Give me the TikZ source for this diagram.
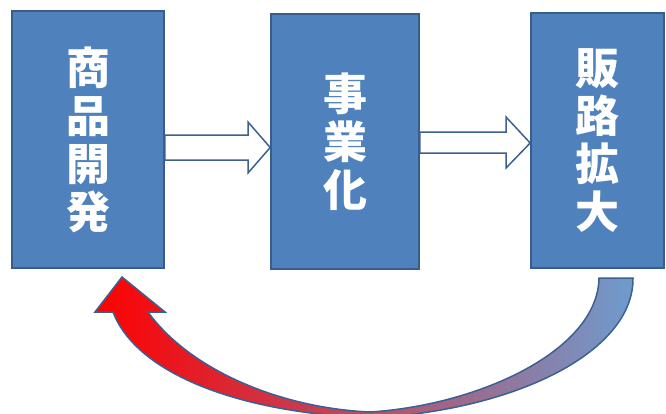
\documentclass[tikz,border=0pt]{standalone}
\usepackage{fontspec}
\newfontfamily\cjk{Noto Sans CJK JP}
\usetikzlibrary{calc}
\definecolor{boxfill}{RGB}{79,129,189}
\definecolor{boxline}{RGB}{56,93,138}
\definecolor{arrline}{RGB}{60,96,145}
\definecolor{lightblue}{RGB}{110,156,206}
\begin{document}
\begin{tikzpicture}[x=1pt,y=-1pt,
  stagebox/.style={draw=boxline, line width=1.6pt, fill=boxfill, text=white,
    inner sep=0pt, align=center,
    font=\cjk\bfseries\fontsize{44}{48}\selectfont},
  blockarrow/.style={draw=arrline, line width=1.5pt, fill=white, line join=miter},
  loopstyle/.style={draw=arrline, line width=1.5pt, left color=red, right color=lightblue, line join=miter}]
\useasboundingbox (0,0) rectangle (666,413);
\clip (0,0) rectangle (666,413);
\node[stagebox, minimum width=152pt, minimum height=257pt] (a) at (88,139.5) {商\\品\\開\\発};
\node[stagebox, minimum width=148pt, minimum height=255pt] (b) at (345,141.5) {事\\業\\化};
\node[stagebox, minimum width=133pt, minimum height=255pt] (c) at (597.5,140.5) {販\\路\\拡\\大};
% block arrow a -> b
\draw[blockarrow] (a.east |- 0,135) -- (248,135) -- (248,122) -- (b.west |- 0,147.5)
  -- (248,173) -- (248,160) -- (a.east |- 0,160) -- cycle;
% block arrow b -> c
\draw[blockarrow] (b.east |- 0,132) -- (506,132) -- (506,117) -- (c.west |- 0,143)
  -- (506,168) -- (506,153) -- (b.east |- 0,153) -- cycle;
% curved return arrow c -> a
\coordinate (tip) at (122,277);
\path[loopstyle] (633,278)
  .. controls (634,350) and (520,410) .. (370,418)
  .. controls (230,412) and (135,370) .. (113,312)
  -- (95,312) -- (tip) -- (165,312) -- (148,312)
  .. controls (190,370) and (280,408) .. (370,412)
  .. controls (480,405) and (598,350) .. (599,278) -- cycle;
\end{tikzpicture}
\end{document}
